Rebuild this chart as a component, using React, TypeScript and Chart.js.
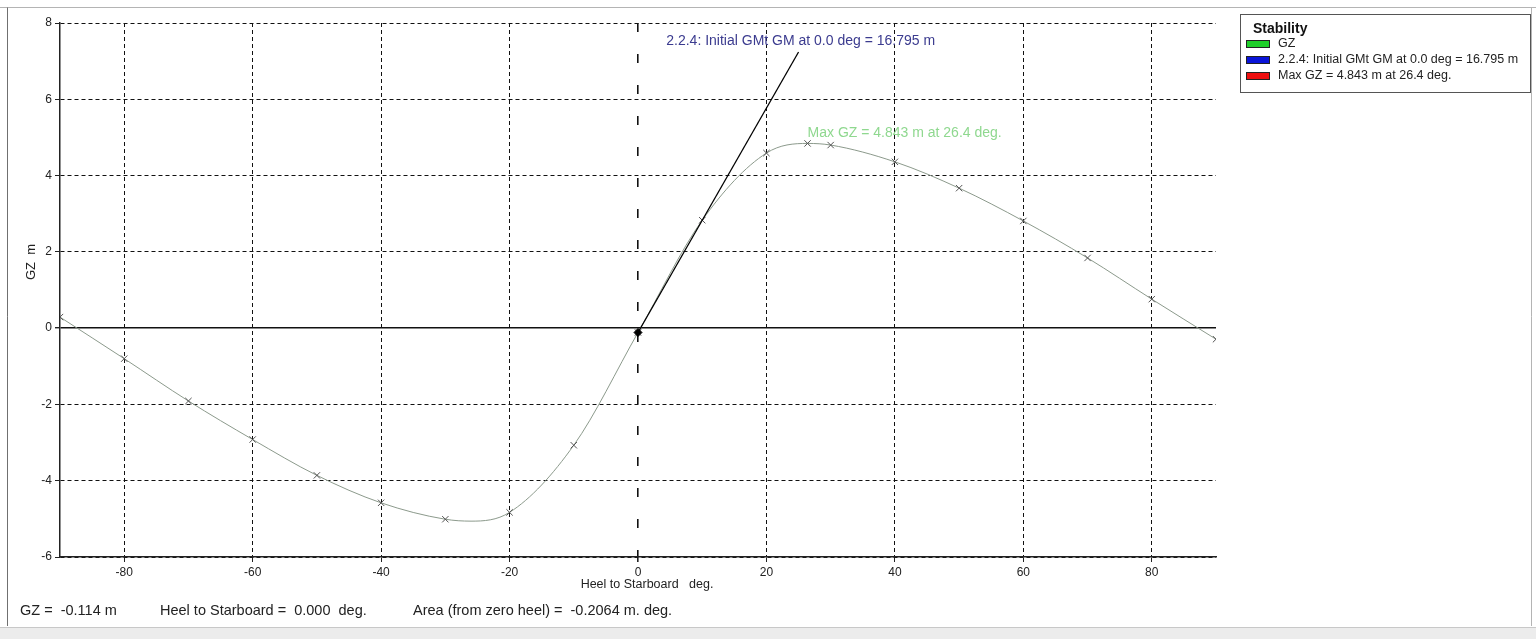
import React, { useEffect, useRef } from "react";
import { Chart, registerables } from "chart.js";
Chart.register(...registerables);

// ---- data ----
const heelDeg = [-90, -80, -70, -60, -50, -40, -30, -26, -20, -10, 0, 10, 20, 26.4, 30, 40, 50, 60, 70, 80, 90];
const gzValues = [0.29, -0.8, -1.91, -2.92, -3.86, -4.58, -5.01, -5.06, -4.83, -3.07, -0.114, 2.83, 4.59, 4.843, 4.8, 4.36, 3.67, 2.81, 1.84, 0.76, -0.29];
const markerShown = [1, 1, 1, 1, 1, 1, 1, 0, 1, 1, 1, 1, 1, 1, 1, 1, 1, 1, 1, 1, 1];
const gmLineX = [0, 25];
const gmLineY = [-0.114, 7.24];
const currentHeel = [0];
const currentGZ = [-0.114];
const xTickValues = [-80, -60, -40, -20, 0, 20, 40, 60, 80];
const yTickValues = [-6, -4, -2, 0, 2, 4, 6, 8];
const legendTitle = "Stability";
const legendLabels = ["GZ", "2.2.4: Initial GMt GM at 0.0 deg = 16.795 m", "Max GZ = 4.843 m at 26.4 deg."];
const legendColors = ["#1fcf2a", "#0a14d8", "#ee1010"];
const gmAnnotation = "2.2.4: Initial GMt GM at 0.0 deg = 16.795 m";
const maxAnnotation = "Max GZ = 4.843 m at 26.4 deg.";
const statusTexts = ["GZ =  -0.114 m", "Heel to Starboard =  0.000  deg.", "Area (from zero heel) =  -0.2064 m. deg."];
const xTitle = "Heel to Starboard   deg.";
const yTitle = "GZ  m";

const FONT = "'Liberation Sans', Arial, sans-serif";

const decorPlugin = {
  id: "decor",
  beforeDraw(chart: any) {
    const ctx = chart.ctx;
    ctx.save();
    ctx.fillStyle = "#ffffff";
    ctx.fillRect(0, 0, chart.width, chart.height);
    // outer frame
    ctx.strokeStyle = "#b4b4b4";
    ctx.lineWidth = 1;
    ctx.beginPath();
    ctx.moveTo(0, 7.5);
    ctx.lineTo(1536, 7.5);
    ctx.moveTo(1531.5, 7.5);
    ctx.lineTo(1531.5, 626);
    ctx.stroke();
    ctx.strokeStyle = "#707070";
    ctx.beginPath();
    ctx.moveTo(7.5, 7.5);
    ctx.lineTo(7.5, 626);
    ctx.stroke();
    ctx.fillStyle = "#ececec";
    ctx.fillRect(0, 627, 1536, 12);
    ctx.strokeStyle = "#c8c8c8";
    ctx.beginPath();
    ctx.moveTo(0, 627.5);
    ctx.lineTo(1536, 627.5);
    ctx.stroke();
    ctx.restore();
  },
  afterDraw(chart: any) {
    const ctx = chart.ctx;
    const xs = chart.scales.x;
    const ys = chart.scales.y;
    ctx.save();
    // axis titles
    ctx.fillStyle = "#222";
    ctx.font = `13px ${FONT}`;
    ctx.textAlign = "center";
    ctx.textBaseline = "middle";
    ctx.save();
    ctx.translate(31, 262);
    ctx.rotate(-Math.PI / 2);
    ctx.fillText(yTitle, 0, 0);
    ctx.restore();
    ctx.font = `12.5px ${FONT}`;
    ctx.fillText(xTitle, 647, 585);
    // status line
    ctx.textAlign = "left";
    ctx.font = `14.5px ${FONT}`;
    ctx.fillText(statusTexts[0], 20, 611);
    ctx.fillText(statusTexts[1], 160, 611);
    ctx.fillText(statusTexts[2], 413, 611);
    // annotations
    ctx.font = `14px ${FONT}`;
    ctx.fillStyle = "#3b3b8f";
    ctx.fillText(gmAnnotation, xs.getPixelForValue(4.4), ys.getPixelForValue(7.53));
    ctx.fillStyle = "#8fd88f";
    ctx.fillText(maxAnnotation, xs.getPixelForValue(26.4), ys.getPixelForValue(5.1));
    // legend
    ctx.strokeStyle = "#555";
    ctx.lineWidth = 1;
    ctx.strokeRect(1240.5, 14.5, 290, 78);
    ctx.fillStyle = "#111";
    ctx.font = `bold 14px ${FONT}`;
    ctx.fillText(legendTitle, 1253, 29);
    ctx.font = `12.5px ${FONT}`;
    const rows = [44, 60, 76];
    legendLabels.forEach((lab, i) => {
      ctx.fillStyle = legendColors[i];
      ctx.fillRect(1246, rows[i] - 4, 24, 8);
      ctx.strokeStyle = "#222";
      ctx.strokeRect(1246.5, rows[i] - 3.5, 23, 7);
      ctx.fillStyle = "#222";
      ctx.fillText(lab, 1278, rows[i]);
    });
    ctx.restore();
  },
};

export default function App() {
  const ref = useRef<HTMLCanvasElement>(null);
  useEffect(() => {
    if (!ref.current) return;
    Chart.defaults.font.family = FONT;
    const curve = heelDeg.map((x, i) => ({ x, y: gzValues[i] }));
    const gm = gmLineX.map((x, i) => ({ x, y: gmLineY[i] }));
    const cur = currentHeel.map((x, i) => ({ x, y: currentGZ[i] }));
    const chart = new Chart(ref.current, {
      type: "scatter",
      data: {
        datasets: [
          {
            label: "GM",
            data: gm,
            showLine: true,
            borderColor: "#000",
            borderWidth: 1.3,
            pointRadius: 0,
          },
          {
            label: "Current",
            data: cur,
            showLine: false,
            pointStyle: "rectRot",
            pointRadius: 4,
            backgroundColor: "#000",
            borderColor: "#000",
          },
          {
            label: "GZ",
            data: curve,
            showLine: true,
            cubicInterpolationMode: "monotone",
            borderColor: "#8c9a8c",
            borderWidth: 1,
            pointStyle: "crossRot",
            pointRadius: markerShown.map((m) => (m ? 4.5 : 0)),
            pointBorderColor: "#555",
            pointBorderWidth: 1,
            backgroundColor: "#555",
          },
        ],
      },
      options: {
        responsive: false,
        animation: false,
        events: [],
        layout: { padding: { top: 23, right: 320, left: 0, bottom: 0 } },
        plugins: { legend: { display: false }, tooltip: { enabled: false } },
        scales: {
          x: {
            type: "linear",
            min: -90,
            max: 90,
            afterBuildTicks: (s: any) => {
              s.ticks = xTickValues.map((v) => ({ value: v }));
            },
            afterFit: (s: any) => {
              s.height = 82;
            },
            ticks: { color: "#222", font: { size: 12 }, padding: 3, maxRotation: 0, autoSkip: false },
            grid: {
              color: "#111",
              lineWidth: (c: any) => (c.tick && c.tick.value === 0 ? 1.6 : 1),
              tickLength: 5,
              tickColor: "#222",
              tickBorderDash: [],
            },
            border: {
              display: true,
              color: "#222",
              width: 1.5,
              dash: (c: any) => (c.tick && c.tick.value === 0 ? [9, 22] : [4, 3]),
            },
          },
          y: {
            type: "linear",
            min: -6,
            max: 8,
            afterBuildTicks: (s: any) => {
              s.ticks = yTickValues.map((v) => ({ value: v }));
            },
            afterFit: (s: any) => {
              s.width = 60;
            },
            ticks: { color: "#222", font: { size: 12 }, padding: 3, autoSkip: false },
            grid: {
              color: "#111",
              lineWidth: (c: any) => (c.tick && c.tick.value === 0 ? 1.4 : 1),
              tickLength: 5,
              tickColor: "#222",
              tickBorderDash: [],
            },
            border: {
              display: true,
              color: "#222",
              width: 1.5,
              dash: (c: any) => (c.tick && c.tick.value === 0 ? [] : [4, 3]),
            },
          },
        },
      },
      plugins: [decorPlugin],
    } as any);
    return () => chart.destroy();
  }, []);
  return (
    <div style={{ position: "fixed", left: 0, top: 0, width: 1536, height: 639 }}>
      <canvas ref={ref} width={1536} height={639} style={{ width: 1536, height: 639, display: "block" }} />
    </div>
  );
}
